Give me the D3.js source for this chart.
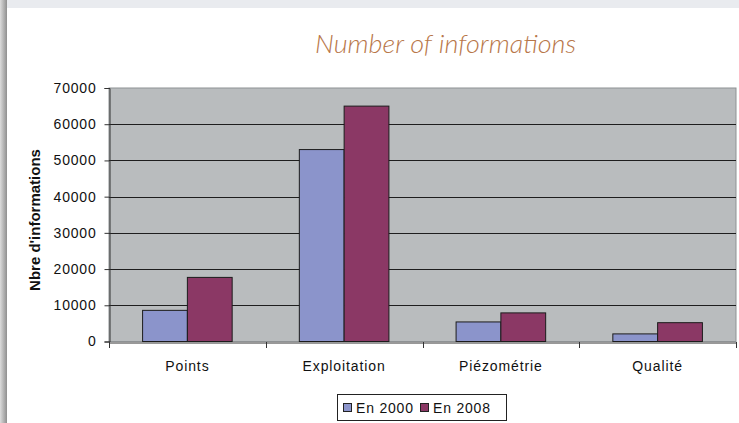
<!DOCTYPE html>
<html><head><meta charset="utf-8">
<script src="https://cdn.jsdelivr.net/npm/d3@7"></script>
<style>html,body{margin:0;padding:0;background:#fff;}svg{display:block;}</style>
</head><body>
<svg id="c" width="739" height="423"></svg>
<script>
const categories = ["Points", "Exploitation", "Piézométrie", "Qualité"];
const seriesNames = ["En 2000", "En 2008"];
const values2000 = [8600, 53000, 5400, 2100];
const values2008 = [17700, 65000, 7900, 5200];
const yTicks = [0, 10000, 20000, 30000, 40000, 50000, 60000, 70000];
const titleText = "Number of informations";
const yTitle = "Nbre d'informations";

const series = [values2000, values2008];
const colors = ["#8b94cb", "#8b3865"];

const svg = d3.select("#c");
const W = 739, H = 423;

// page background: top strip and left shadow
const defs = svg.append("defs");
const g1 = defs.append("linearGradient").attr("id","ls").attr("x1","0").attr("x2","1").attr("y1","0").attr("y2","0");
g1.append("stop").attr("offset","0").attr("stop-color","#dcdcdc");
g1.append("stop").attr("offset","1").attr("stop-color","#8f8f8f");
svg.append("rect").attr("x",0).attr("y",0).attr("width",W).attr("height",H).attr("fill","#fff");
svg.append("rect").attr("x",0).attr("y",0).attr("width",W).attr("height",8).attr("fill","#e9ebef");
svg.append("rect").attr("x",0).attr("y",0).attr("width",7).attr("height",H).attr("fill","url(#ls)");

// title
svg.append("text").attr("x",315).attr("y",53)
  .attr("font-family","Lato, 'Open Sans', sans-serif").attr("font-style","italic").attr("font-weight",300)
  .attr("font-size",25).attr("fill","#b8774a")
  .attr("textLength",261).attr("lengthAdjust","spacingAndGlyphs")
  .text(titleText);

const x0 = 109, x1 = 736;
const y = d3.scaleLinear().domain([0,70000]).range([341.5, 88]);
const xb = d3.scaleBand().domain(categories).range([x0, x1]).paddingInner(0).paddingOuter(0);
const xs = d3.scaleBand().domain(seriesNames).range([0, xb.bandwidth()]).paddingInner(0).paddingOuter(0.75);

// plot background
svg.append("rect").attr("x",x0).attr("y",y(70000)).attr("width",x1-x0).attr("height",y(0)-y(70000))
  .attr("fill","#b9bcbe").attr("stroke","#8e9294").attr("stroke-width",1);

// gridlines
svg.append("g").selectAll("line").data(yTicks.filter(d=>d>0 && d<70000)).join("line")
  .attr("x1",x0).attr("x2",x1).attr("y1",d=>Math.round(y(d))+0.5).attr("y2",d=>Math.round(y(d))+0.5)
  .attr("stroke","#1e1e1e").attr("stroke-width",1);

// bars
const bg = svg.append("g");
categories.forEach((c,i)=>{
  series.forEach((s,j)=>{
    bg.append("rect")
      .attr("x", xb(c)+xs(seriesNames[j]))
      .attr("y", y(s[i]))
      .attr("width", xs.bandwidth())
      .attr("height", y(0)-y(s[i]))
      .attr("fill", colors[j]).attr("stroke","#1c1c1c").attr("stroke-width",1);
  });
});

// y axis
const ya = d3.axisLeft(y).tickValues(yTicks).tickSize(5).tickPadding(8).tickFormat(d3.format("d"));
const yg = svg.append("g").attr("transform",`translate(${x0+0.5},0)`).call(ya);
yg.select(".domain").attr("stroke","#333");
yg.selectAll(".tick line").attr("stroke","#333");
yg.selectAll("text").attr("font-family","Arial, 'Liberation Sans', sans-serif").attr("font-size",14)
  .attr("letter-spacing","0.8px").attr("fill","#111");

// x axis
const xa = d3.axisBottom(xb).tickSize(0).tickPadding(19);
const xg = svg.append("g").attr("transform",`translate(0,${Math.round(y(0))+0.5})`).call(xa);
xg.select(".domain").attr("stroke","#333");
xg.selectAll("text").attr("font-family","Arial, 'Liberation Sans', sans-serif").attr("font-size",14)
  .attr("letter-spacing","0.9px").attr("fill","#111");
// category separators
const seps = categories.map(c=>xb(c)).concat([x1]);
svg.append("g").selectAll("line").data(seps).join("line")
  .attr("x1",d=>Math.round(d)+0.5).attr("x2",d=>Math.round(d)+0.5)
  .attr("y1",Math.round(y(0))).attr("y2",Math.round(y(0))+6)
  .attr("stroke","#333");

// y title
svg.append("text").attr("transform","translate(40,220) rotate(-90)").attr("text-anchor","middle")
  .attr("font-family","Arial, 'Liberation Sans', sans-serif").attr("font-weight","bold").attr("font-size",15)
  .attr("fill","#111").text(yTitle);

// legend
const lg = svg.append("g");
lg.append("rect").attr("x",337.5).attr("y",394.5).attr("width",169).attr("height",26)
  .attr("fill","#fff").attr("stroke","#222");
const lx = [343, 420];
seriesNames.forEach((n,j)=>{
  lg.append("rect").attr("x",lx[j]+0.5).attr("y",403.5).attr("width",8).attr("height",8)
    .attr("fill",colors[j]).attr("stroke","#222");
  lg.append("text").attr("x",lx[j]+13).attr("y",413)
    .attr("font-family","Arial, 'Liberation Sans', sans-serif").attr("font-size",14)
    .attr("letter-spacing","0.8px").attr("fill","#111").text(n);
});
</script>
</body></html>
